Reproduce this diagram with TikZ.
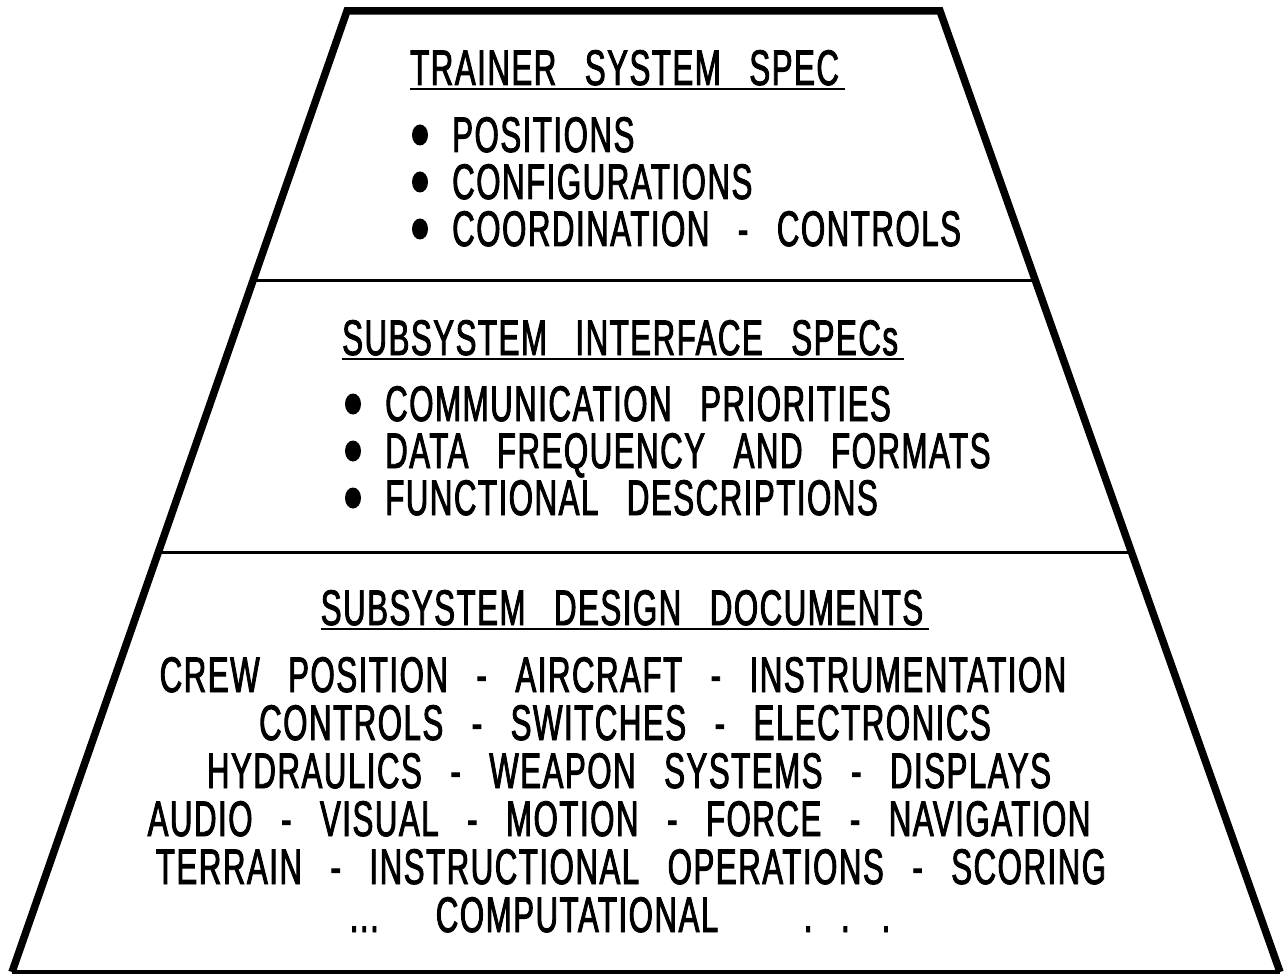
\documentclass[tikz,border=0pt]{standalone}
\usepackage{fontspec}
\setmainfont{Liberation Sans}[FakeStretch=0.625,FakeBold=1.8,LetterSpace=3,WordSpace=2.8]
\usetikzlibrary{calc}

\begin{document}
\begin{tikzpicture}[x=1pt,y=-1pt,
  txt/.style={inner sep=0pt,font=\fontsize{50}{54}\selectfont},
  item/.style={txt,anchor=base west},
  row/.style={txt,anchor=base},
  uline/.style={line width=2.5pt},
  split/.style={line width=3pt}]

\useasboundingbox (0,0) rectangle (1285,976);

% outline
\coordinate (tl) at (347,11);
\coordinate (tr) at (940,11);
\coordinate (bl) at (12,972);
\coordinate (br) at (1280,972);
\draw[line width=7.5pt,line join=miter] (bl) -- (tl) -- (tr) -- (br);
\draw[line width=4pt] (bl) -- (br);

% level splits
\coordinate (s1l) at ($(tl)!0.2807!(bl)$);
\coordinate (s1r) at ($(tr)!0.2807!(br)$);
\coordinate (s2l) at ($(tl)!0.5634!(bl)$);
\coordinate (s2r) at ($(tr)!0.5634!(br)$);
\draw[split] (s1l) -- (s1r);
\draw[split] (s2l) -- (s2r);

% top level
\node[item] (spec) at (410,85) {TRAINER SYSTEM SPEC};
\node[item] (pos)  at (452,152) {POSITIONS};
\node[item] (cfg)  at (452,199) {CONFIGURATIONS};
\node[item] (crd)  at (452,246) {COORDINATION - CONTROLS};

% middle level
\node[item] (ifc)  at (342,355) {SUBSYSTEM INTERFACE SPECs};
\node[item] (com)  at (385,421) {COMMUNICATION PRIORITIES};
\node[item] (frq)  at (385,468) {DATA FREQUENCY AND FORMATS};
\node[item] (fun)  at (385,515) {FUNCTIONAL DESCRIPTIONS};

% bottom level
\node[row] (des)  at (622,625) {SUBSYSTEM DESIGN DOCUMENTS};
\node[row] (crew) at (613,692) {CREW POSITION - AIRCRAFT - INSTRUMENTATION};
\node[row] (ctl)  at (625,740) {CONTROLS - SWITCHES - ELECTRONICS};
\node[row] (hyd)  at (629,788) {HYDRAULICS - WEAPON SYSTEMS - DISPLAYS};
\node[row] (aud)  at (619,836) {AUDIO - VISUAL - MOTION - FORCE - NAVIGATION};
\node[row] (ter)  at (631,884) {TERRAIN - INSTRUCTIONAL OPERATIONS - SCORING};
\node[row] (cmp)  at (620,932) {...\ \ COMPUTATIONAL\ \ \ . . .};

\foreach \t in {spec,ifc,des}
  \draw[uline] ($(\t.base west)+(0,4)$) -- ($(\t.base east)+(6,4)$);
\foreach \n in {pos,cfg,crd,com,frq,fun}
  \fill ($(\n.base west)+(-32,-17)$) ellipse [x radius=8,y radius=10.5];

\end{tikzpicture}
\end{document}
